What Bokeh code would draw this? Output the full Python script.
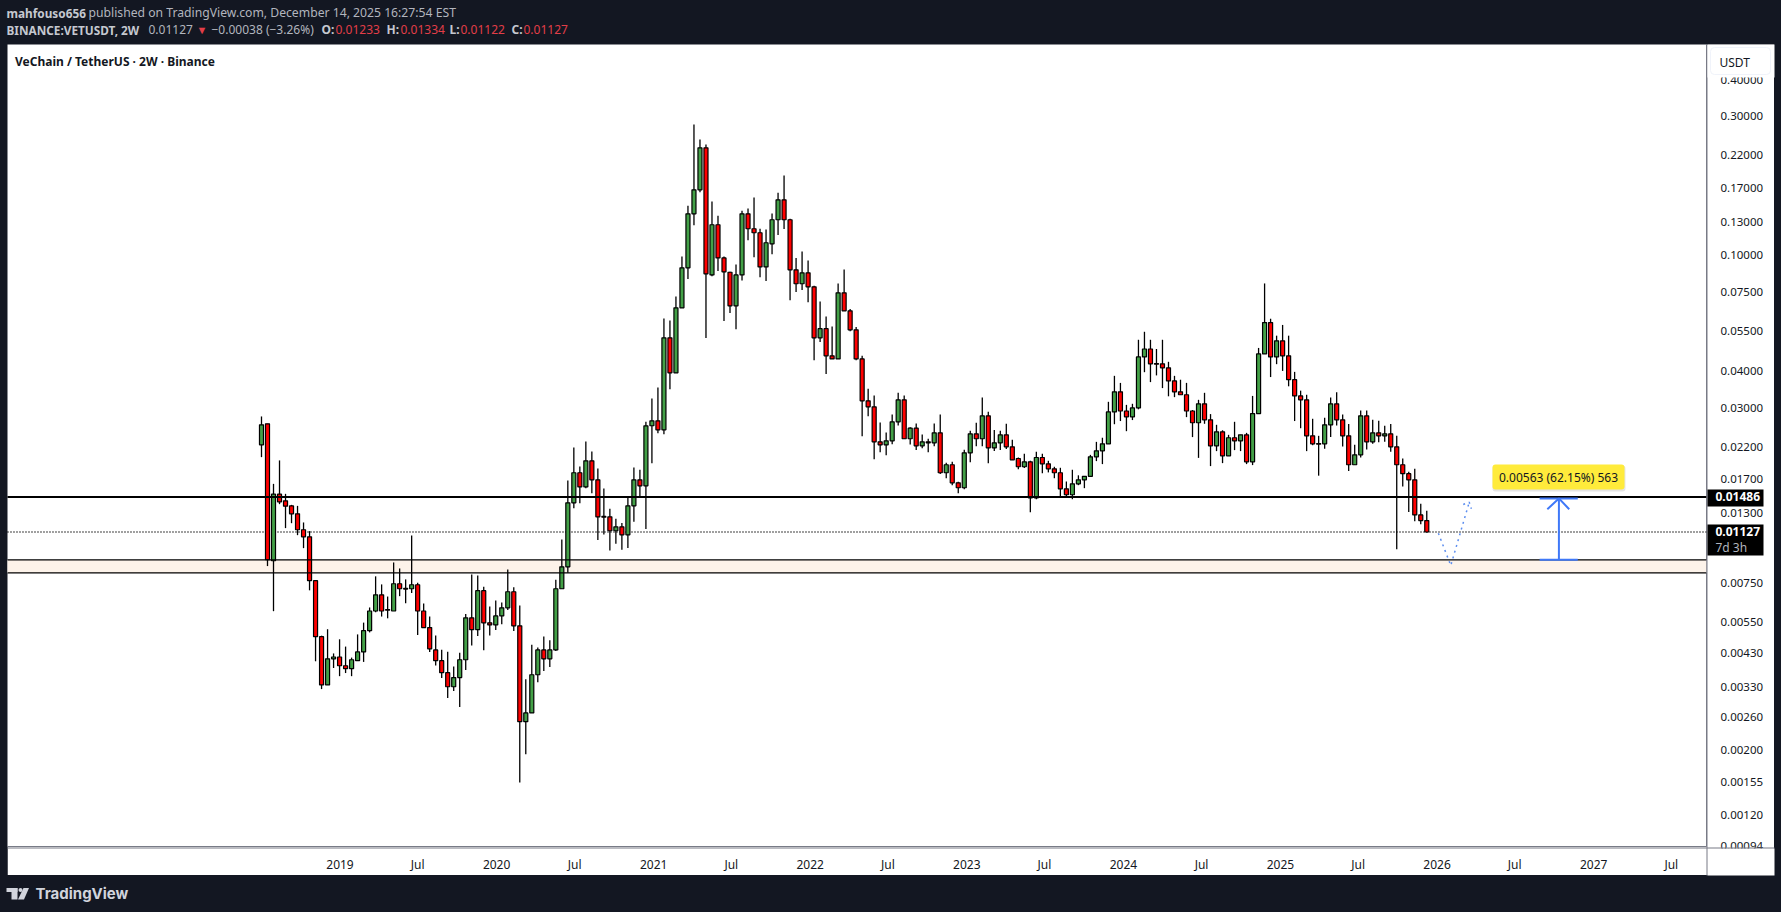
import pandas as pd
from bokeh.embed import file_html
from bokeh.models import (BoxAnnotation, ColumnDataSource, FixedTicker, Label, PolyAnnotation,
                          PrintfTickFormatter, Range1d)
from bokeh.plotting import figure
from bokeh.resources import INLINE

# ---------- data ----------
first_bar = "2018-07-02"
bar_days = 14

opens = [.02243,.02648,.00898,.01519,.01441,.01385,.01301,.01147,.01085,.00767,
         .00493,.00337,.00414,.00420,.00392,.00383,.00408,.00437,.00517,.00604,
         .00686,.00611,.00604,.00749,.00722,.00720,.00743,.00604,.00530,.00444,
         .00408,.00371,.00332,.00357,.00411,.00572,.00521,.00709,.00550,.00541,
         .00581,.00619,.00703,.00537,.00252,.00270,.00365,.00444,.00414,.00444,
         .00720,.00856,.01419,.01799,.01609,.01977,.01701,.01274,.01270,.01138,
         .01174,.01102,.01386,.01701,.01622,.02607,.02711,.02525,.05222,.03959,
         .06615,.09072,.13900,.16790,.23400,.08580,.12750,.09810,.08760,.06720,
         .08580,.13900,.12350,.11970,.09140,.10970,.13260,.15520,.13260,.08930,
         .08000,.08720,.07810,.05220,.05610,.04530,.04420,.07450,.06460,.05560,
         .04420,.03175,.03027,.02296,.02243,.02314,.02690,.03200,.02353,.02557,
         .02225,.02296,.02278,.02465,.01799,.01916,.01662,.01598,.02106,.02446,
         .02353,.02820,.02191,.02278,.02427,.02208,.02013,.01886,.01961,.01476,
         .02029,.01931,.01856,.01799,.01585,.01512,.01648,.01701,.01749,.02040,
         .02139,.02260,.02907,.03408,.02929,.02798,.03002,.04490,.04780,.04260,
         .04250,.04118,.03716,.03408,.03330,.02929,.02670,.03101,.02733,.02225,
         .02486,.02056,.02372,.02314,.02427,.01961,.02870,.04598,.05890,.04490,
         .05100,.04530,.03750,.03300,.03200,.02408,.02266,.02260,.02627,.03100,
         .02733,.02408,.01916,.02072,.02820,.02296,.02465,.02408,.02446,.02208,
         .01916,.01786,.01701,.01290,.01233]
highs = [.02806,.02648,.01648,.01983,.01523,.01396,.01385,.01215,.01135,.00767,
         .00497,.00523,.00432,.00483,.00456,.00418,.00502,.00551,.00621,.00794,
         .00745,.00677,.00886,.00845,.00775,.01096,.00755,.00641,.00578,.00498,
         .00445,.00438,.00390,.00434,.00590,.00806,.00800,.00731,.00626,.00656,
         .00646,.00838,.00728,.00631,.00352,.00463,.00453,.00494,.00479,.00773,
         .01062,.01692,.02196,.01891,.02302,.02128,.01861,.01588,.01353,.01250,
         .01211,.01476,.01876,.01842,.02690,.03234,.03526,.06086,.05990,.07235,
         .09919,.14800,.28130,.24990,.24020,.15320,.13680,.09920,.08790,.09310,
         .14230,.14500,.15810,.12350,.12280,.13940,.16400,.18810,.13360,.09810,
         .10320,.09610,.07880,.06960,.06180,.05710,.08020,.08950,.06560,.05690,
         .04530,.03490,.03311,.02676,.02472,.02850,.03382,.03311,.02577,.02652,
         .02433,.02353,.02652,.02850,.01946,.01961,.01675,.02156,.02505,.02670,
         .03259,.02915,.02523,.02505,.02648,.02334,.02029,.02089,.01977,.02123,
         .02089,.01977,.01886,.01871,.01679,.01842,.01763,.01749,.02072,.02296,
         .02372,.03150,.03867,.03657,.03075,.03101,.05141,.05476,.05141,.04780,
         .05141,.04320,.03867,.03750,.03658,.02952,.03200,.03382,.02859,.02627,
         .02516,.02427,.02690,.02427,.02465,.03300,.04820,.08020,.06070,.05310,
         .05780,.05310,.03990,.03440,.03330,.02755,.02408,.02776,.03259,.03399,
         .02850,.02642,.02243,.02940,.02940,.02733,.02712,.02605,.02642,.02408,
         .02013,.01813,.01856,.01408,.01334]
lows = [.02035,.00861,.00603,.01404,.01162,.01208,.01099,.00992,.00711,.00406,
        .00326,.00337,.00385,.00361,.00370,.00361,.00408,.00404,.00510,.00598,
        .00578,.00570,.00604,.00679,.00642,.00696,.00500,.00530,.00437,.00393,
        .00356,.00304,.00321,.00283,.00379,.00460,.00496,.00443,.00498,.00520,
        .00544,.00609,.00516,.00156,.00195,.00270,.00344,.00376,.00388,.00440,
        .00720,.00817,.01360,.01415,.01593,.01531,.01057,.01105,.00974,.01027,
        .00979,.00994,.01221,.01484,.01153,.01941,.02459,.02440,.03480,.03959,
        .06615,.08300,.12710,.16490,.05209,.08490,.08840,.05960,.06350,.05590,
        .08210,.11290,.09870,.08430,.08170,.10100,.11750,.12320,.07030,.07490,
        .07610,.06920,.04370,.05050,.03920,.04420,.04420,.06460,.05500,.04370,
        .02401,.02813,.02003,.02117,.02067,.02254,.02610,.02353,.02248,.02151,
        .02184,.02117,.02219,.01780,.01723,.01631,.01531,.01580,.01955,.02219,
        .02219,.01941,.02134,.02151,.02168,.01993,.01851,.01866,.01318,.01460,
        .01793,.01804,.01723,.01476,.01494,.01460,.01631,.01593,.01749,.01972,
        .01926,.02260,.02639,.02706,.02498,.02727,.02969,.03980,.03680,.03880,
        .03510,.03290,.03268,.03330,.02791,.02384,.02023,.02648,.01896,.02134,
        .01941,.02056,.02151,.02134,.01926,.01911,.02870,.04598,.03830,.04240,
        .04020,.03560,.02706,.02557,.02134,.02236,.01758,.02173,.02384,.02613,
        .02214,.01823,.01916,.02029,.02162,.02260,.02290,.02296,.02123,.00984,
        .01614,.01320,.01227,.01199,.01122]
closes = [.02627,.00905,.01519,.01430,.01382,.01301,.01147,.01085,.00767,.00493,
          .00337,.00414,.00420,.00392,.00383,.00411,.00437,.00517,.00604,.00686,
          .00604,.00608,.00749,.00720,.00718,.00743,.00604,.00530,.00448,.00408,
          .00371,.00332,.00357,.00411,.00572,.00521,.00709,.00550,.00541,.00581,
          .00619,.00703,.00537,.00252,.00270,.00365,.00444,.00414,.00444,.00720,
          .00856,.01419,.01799,.01609,.01977,.01701,.01270,.01267,.01138,.01174,
          .01102,.01386,.01701,.01622,.02605,.02711,.02525,.05222,.03959,.06615,
          .09072,.13900,.16790,.23400,.08650,.12750,.09810,.08790,.06720,.08580,
          .13900,.12350,.11970,.09140,.11060,.13260,.15520,.13260,.08930,.08000,
          .08720,.07810,.05220,.05610,.04530,.04420,.07450,.06460,.05560,.04420,
          .03175,.03027,.02296,.02243,.02314,.02690,.03200,.02353,.02557,.02225,
          .02296,.02278,.02465,.01799,.01916,.01662,.01598,.02106,.02446,.02353,
          .02820,.02191,.02278,.02427,.02208,.01993,.01886,.01961,.01476,.02029,
          .01931,.01856,.01799,.01585,.01512,.01648,.01701,.01749,.02040,.02139,
          .02260,.02907,.03408,.02929,.02798,.03002,.04490,.04780,.04250,.04240,
          .04118,.03716,.03408,.03330,.02929,.02670,.03101,.02733,.02225,.02486,
          .02056,.02372,.02314,.02427,.01961,.02870,.04598,.05890,.04490,.05100,
          .04530,.03750,.03300,.03200,.02408,.02260,.02254,.02627,.03100,.02733,
          .02408,.01916,.02072,.02820,.02296,.02465,.02408,.02446,.02208,.01916,
          .01786,.01701,.01290,.01233,.01127]

price_ticks = [0.40, 0.30, 0.22, 0.17, 0.13, 0.10, 0.075, 0.055, 0.04, 0.03, 0.022, 0.017, 0.013,
               0.0075, 0.0055, 0.0043, 0.0033, 0.0026, 0.002, 0.00155, 0.0012, 0.00094]
time_ticks = ["2019-01-01", "2019-07-01", "2020-01-01", "2020-07-01", "2021-01-01", "2021-07-01",
              "2022-01-01", "2022-07-01", "2023-01-01", "2023-07-01", "2024-01-01", "2024-07-01",
              "2025-01-01", "2025-07-01", "2026-01-01", "2026-07-01", "2027-01-01", "2027-07-01"]
time_labels = ["2019", "Jul", "2020", "Jul", "2021", "Jul", "2022", "Jul", "2023", "Jul", "2024",
               "Jul", "2025", "Jul", "2026", "Jul", "2027", "Jul"]

resistance = 0.01486
last_price = 0.01127
zone_top = 0.00904
zone_bottom = 0.00816

measure_low = 0.00906
measure_high = 0.01469
measure_head = 0.01349
measure_dates = ["2026-08-28", "2026-09-15", "2026-10-12", "2026-11-05", "2026-11-25"]

path_dates = ["2026-01-04", "2026-02-02", "2026-03-17"]
path_prices = [0.01116, 0.00865, 0.01426]
path_head_dates = ["2026-03-03", "2026-03-17", "2026-03-22"]
path_head_prices = [0.01400, 0.01426, 0.01353]

# ---------- colours ----------
DARK = "#131722"
UP = "#43A047"
DOWN = "#FF0000"
BLUE = "#3F78F8"
GREY_TXT = "#B2B5BE"
HEAD_BOLD = "#C5C8D0"
RED_TXT = "#E23E48"
AXIS_GREY = "#787B86"
TXT_FONT = "Noto Sans"

# ---------- pane edges on the time and price scales ----------
plot_left = pd.Timestamp("2016-11-17")
plot_right = pd.Timestamp("2027-09-21")
pane_low = 0.000933
pane_high = 0.5291
day_per_px = (plot_right - plot_left) / 1699
page_left = plot_left - 7 * day_per_px
page_right = plot_right + 75 * day_per_px


def ms(values):
    return [pd.Timestamp(v).timestamp() * 1000.0 for v in values]


# ---------- lower figure: the white chart area with the real axes ----------
axes_fig = figure(width=1767, height=831, output_backend="svg", toolbar_location=None,
                  x_axis_type="datetime", y_axis_type="log", y_axis_location="right",
                  x_range=Range1d(plot_left, plot_right), y_range=Range1d(pane_low, pane_high),
                  min_border_left=0, min_border_right=68, min_border_top=0, min_border_bottom=28,
                  margin=(44, 0, 0, 7))
axes_fig.border_fill_color = "#FFFFFF"
axes_fig.background_fill_color = "#FFFFFF"
axes_fig.outline_line_color = None
axes_fig.grid.visible = False
axes_fig.xaxis.ticker = FixedTicker(ticks=ms(time_ticks))
axes_fig.xaxis.major_label_overrides = dict(zip(ms(time_ticks), time_labels))
axes_fig.xaxis.axis_line_color = AXIS_GREY
axes_fig.xaxis.major_tick_line_color = None
axes_fig.xaxis.minor_tick_line_color = None
axes_fig.xaxis.major_label_standoff = 3
axes_fig.xaxis.major_label_text_font = TXT_FONT
axes_fig.xaxis.major_label_text_font_size = "12px"
axes_fig.xaxis.major_label_text_color = DARK
axes_fig.yaxis.ticker = FixedTicker(ticks=price_ticks)
axes_fig.yaxis.formatter = PrintfTickFormatter(format="%.5f")
axes_fig.yaxis.axis_line_color = AXIS_GREY
axes_fig.yaxis.major_tick_line_color = None
axes_fig.yaxis.minor_tick_line_color = None
axes_fig.yaxis.major_label_standoff = 8
axes_fig.yaxis.major_label_text_font = TXT_FONT
axes_fig.yaxis.major_label_text_font_size = "11.5px"
axes_fig.yaxis.major_label_text_color = DARK
axes_fig.line([plot_left], [pane_low], line_alpha=0)

# ---------- upper figure: transparent, its frame spans the whole page ----------
bar_times = pd.date_range(first_bar, periods=len(opens), freq=f"{bar_days}D")
colors = [UP if c > o else DOWN for o, c in zip(opens, closes)]
src = ColumnDataSource(dict(
    t=bar_times,
    h=highs,
    l=lows,
    top=[max(o, c) for o, c in zip(opens, closes)],
    bot=[min(o, c) for o, c in zip(opens, closes)],
    color=colors,
))

f = figure(width=1781, height=912, output_backend="svg", toolbar_location=None,
           x_axis_type="datetime", y_axis_type="log",
           x_axis_location=None, y_axis_location=None,
           x_range=Range1d(page_left, page_right),
           y_range=Range1d(0.0005586, 0.7489),
           min_border=0, margin=(-875, 0, 0, 0))
f.border_fill_color = None
f.background_fill_color = None
f.outline_line_color = None
f.grid.visible = False


def box(l, r, t, b, color, level="underlay", alpha=1.0, radius=0, line=None):
    f.add_layout(BoxAnnotation(left=l, right=r, top=t, bottom=b,
                               left_units="canvas", right_units="canvas",
                               top_units="canvas", bottom_units="canvas",
                               fill_color=color, fill_alpha=alpha, border_radius=radius,
                               line_color=line, line_alpha=1 if line else 0,
                               level=level))


def text(x, y, s, color, size=12, bold=False, align="left", font=TXT_FONT, level="overlay",
         y_units="canvas"):
    f.add_layout(Label(x=x, y=y, text=s, x_units="canvas", y_units=y_units, text_color=color,
                       text_font=font, text_font_size=f"{size}px",
                       text_font_style="bold" if bold else "normal",
                       text_align=align, text_baseline="middle", level=level))


# support zone and reference lines
f.add_layout(BoxAnnotation(left=plot_left.timestamp() * 1000.0, right=plot_right.timestamp() * 1000.0,
                           top=zone_top, bottom=zone_bottom,
                           fill_color="#FDF3EA", fill_alpha=1, line_color=None, level="underlay"))
f.line([plot_left, plot_right], [last_price, last_price], line_color="#000000",
       line_width=1.3, line_dash=[1, 2])

# candles
f.segment("t", "h", "t", "l", source=src, line_color="#000000", line_width=1.3)
f.vbar("t", width=bar_days * 0.67 * 86400000, top="top", bottom="bot", source=src,
       fill_color="color", line_color="#000000", line_width=1.2)

f.segment([plot_left, plot_left], [zone_top, zone_bottom], [plot_right, plot_right],
          [zone_top, zone_bottom], line_color="#000000", line_width=1.2)
f.segment([plot_left], [resistance], [plot_right], [resistance], line_color="#000000", line_width=2)

# projected path
f.line(pd.to_datetime(path_dates), path_prices, line_color="#5B8DEF", line_width=1.5,
       line_dash="dotted")
f.line(pd.to_datetime(path_head_dates), path_head_prices, line_color="#5B8DEF", line_width=1.5,
       line_dash="dotted")

# price-range tool
m = pd.to_datetime(measure_dates)
f.segment([m[0], m[0], m[2]], [measure_low, measure_high, measure_low],
          [m[4], m[4], m[2]], [measure_low, measure_high, measure_high],
          line_color=BLUE, line_width=2)
f.line([m[1], m[2], m[3]], [measure_head, measure_high, measure_head], line_color=BLUE, line_width=2)

box(1492, 1625, 465, 491, "#000000", level="overlay", alpha=0.10, radius=3)
box(1492, 1624, 464, 489, "#FFEB3B", level="overlay", radius=3)
text(1558, 476.5, "0.00563 (62.15%) 563", DARK, 12, align="center")

# pane separators and the panel edge that hides clipped tick labels
box(1707, 1774, 848, 875, "#FFFFFF", level="overlay")
box(7, 1774, 847, 848, AXIS_GREY, level="overlay")
box(1706, 1707, 44, 875, AXIS_GREY, level="overlay")

# price axis badges
box(1707, 1763, 489, 506, "#000000", level="overlay")
text(1715, resistance, "0.01486", "#FFFFFF", 12, True, y_units="data")
box(1707, 1763, 524, 555, "#000000", level="overlay")
text(1715, last_price, "0.01127", "#FFFFFF", 12, True, y_units="data")
text(1715, 547, "7d 3h", GREY_TXT, 12)

# USDT button (also hides the top of the first tick label)
box(1707, 1774, 44, 77, "#FFFFFF", level="overlay")
box(1710, 1770, 47, 74, "#FFFFFF", level="overlay", radius=4, line="#F0F3FA")
text(1719, 62, "USDT", DARK, 12)

# pane title
text(14.5, 61, "VeChain / TetherUS · 2W · Binance", DARK, 12, True)

# header
text(6, 12, "mahfouso656", HEAD_BOLD, 11.8, True)
text(88, 12, "published on TradingView.com, December 14, 2025 16:27:54 EST", GREY_TXT, 12.2)
text(6, 29, "BINANCE:VETUSDT, 2W", HEAD_BOLD, 11.8, True)
text(148, 29, "0.01127", GREY_TXT, 12)
text(196, 29, "▼", RED_TXT, 11)
text(211, 29, "−0.00038 (−3.26%)", GREY_TXT, 12)
for x, s in [(321, "O:"), (386, "H:"), (449, "L:"), (511, "C:")]:
    text(x, 29, s, HEAD_BOLD, 12, True)
for x, s in [(335, "0.01233"), (400, "0.01334"), (460, "0.01122"), (523, "0.01127")]:
    text(x, 29, s, RED_TXT, 12)

# footer logo and wordmark
box(6, 17, 887.5, 891.5, "#D1D4DC", level="overlay")
box(11, 17, 887.5, 899, "#D1D4DC", level="overlay")
box(18, 22, 887.5, 891.5, "#D1D4DC", level="overlay", radius=2)
f.add_layout(PolyAnnotation(xs=[23, 28.5, 23.5, 17.5], ys=[887.5, 887.5, 899, 899],
                            xs_units="canvas", ys_units="canvas", fill_color="#D1D4DC",
                            fill_alpha=1, line_alpha=0, level="overlay"))
text(35, 893, "TradingView", "#D1D4DC", 15, True, font="Inter")

p = [axes_fig, f]
html = file_html(p, INLINE)
html = html.replace("</head>", f"<style>html,body{{margin:0;background:{DARK};}}</style></head>", 1)
open("out.html", "w").write(html)
